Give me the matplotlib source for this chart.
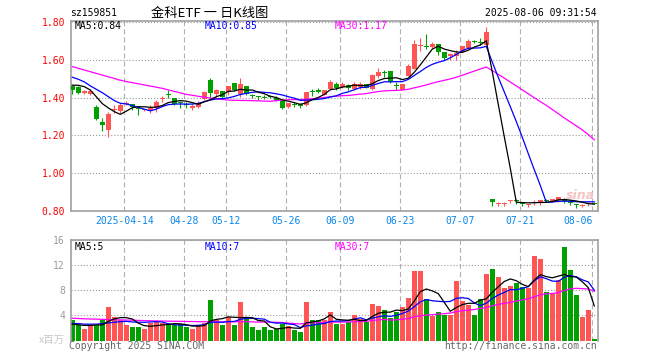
import matplotlib
matplotlib.use('Agg')
import matplotlib.pyplot as plt
import numpy as np
import pandas as pd

plt.rcParams['lines.scale_dashes'] = False

# ---------------- data ----------------
holidays = ['2025-04-04', '2025-05-01', '2025-05-02', '2025-05-05', '2025-06-02']
dates = pd.bdate_range('2025-03-31', '2025-08-06', freq='C', holidays=holidays).strftime('%Y-%m-%d').tolist()

opens = [1.463, 1.454, 1.424, 1.419, 1.352, 1.271, 1.229, 1.334, 1.329, 1.367,
         1.367, 1.346, 1.332, 1.334, 1.343, 1.390, 1.418, 1.397, 1.372, 1.366,
         1.343, 1.352, 1.390, 1.493, 1.417, 1.433, 1.430, 1.475, 1.419, 1.459,
         1.412, 1.404, 1.405, 1.407, 1.397, 1.380, 1.352, 1.365, 1.361, 1.362,
         1.432, 1.438, 1.415, 1.447, 1.470, 1.456, 1.467, 1.445, 1.456, 1.474,
         1.445, 1.516, 1.531, 1.540, 1.465, 1.442, 1.516, 1.551, 1.672, 1.673,
         1.670, 1.685, 1.639, 1.619, 1.618, 1.643, 1.660, 1.697, 1.690, 1.678,
         0.864, 0.838, 0.838, 0.851, 0.853, 0.841, 0.831, 0.841, 0.847, 0.856,
         0.849, 0.860, 0.866, 0.846, 0.834, 0.828, 0.835, 0.840]
highs = [1.466, 1.460, 1.440, 1.445, 1.360, 1.292, 1.324, 1.360, 1.370, 1.380,
         1.367, 1.350, 1.340, 1.360, 1.385, 1.410, 1.438, 1.397, 1.380, 1.375,
         1.367, 1.380, 1.435, 1.504, 1.445, 1.436, 1.461, 1.478, 1.505, 1.460,
         1.420, 1.410, 1.415, 1.415, 1.410, 1.380, 1.370, 1.375, 1.370, 1.430,
         1.447, 1.450, 1.440, 1.493, 1.480, 1.480, 1.470, 1.481, 1.481, 1.474,
         1.526, 1.558, 1.547, 1.540, 1.484, 1.474, 1.577, 1.706, 1.716, 1.735,
         1.695, 1.685, 1.639, 1.637, 1.654, 1.675, 1.709, 1.706, 1.717, 1.774,
         0.864, 0.849, 0.849, 0.860, 0.863, 0.849, 0.839, 0.860, 0.860, 0.862,
         0.866, 0.874, 0.870, 0.857, 0.839, 0.836, 0.846, 0.842]
lows = [1.417, 1.420, 1.420, 1.415, 1.280, 1.222, 1.190, 1.320, 1.320, 1.360,
        1.335, 1.307, 1.330, 1.320, 1.322, 1.376, 1.400, 1.360, 1.346, 1.343,
        1.332, 1.345, 1.385, 1.405, 1.405, 1.400, 1.416, 1.436, 1.405, 1.416,
        1.400, 1.385, 1.390, 1.396, 1.380, 1.340, 1.345, 1.350, 1.343, 1.355,
        1.406, 1.425, 1.412, 1.445, 1.438, 1.449, 1.442, 1.442, 1.445, 1.449,
        1.442, 1.502, 1.508, 1.477, 1.442, 1.438, 1.512, 1.551, 1.648, 1.657,
        1.663, 1.625, 1.600, 1.598, 1.598, 1.639, 1.657, 1.688, 1.677, 1.678,
        0.828, 0.828, 0.828, 0.842, 0.839, 0.828, 0.821, 0.832, 0.832, 0.850,
        0.845, 0.846, 0.840, 0.832, 0.818, 0.822, 0.825, 0.838]
closes = [1.440, 1.426, 1.436, 1.433, 1.288, 1.257, 1.313, 1.338, 1.361, 1.372,
          1.349, 1.339, 1.336, 1.346, 1.378, 1.392, 1.416, 1.366, 1.369, 1.363,
          1.353, 1.373, 1.430, 1.426, 1.442, 1.405, 1.461, 1.440, 1.472, 1.420,
          1.409, 1.401, 1.400, 1.404, 1.387, 1.345, 1.369, 1.362, 1.358, 1.430,
          1.428, 1.428, 1.440, 1.483, 1.452, 1.474, 1.449, 1.474, 1.470, 1.452,
          1.522, 1.533, 1.528, 1.480, 1.462, 1.474, 1.569, 1.685, 1.675, 1.670,
          1.685, 1.643, 1.611, 1.633, 1.637, 1.671, 1.702, 1.694, 1.687, 1.749,
          0.849, 0.840, 0.840, 0.853, 0.851, 0.839, 0.833, 0.843, 0.860, 0.853,
          0.863, 0.874, 0.853, 0.844, 0.831, 0.830, 0.837, 0.839]
volumes = [3.2, 2.5, 1.9, 2.3, 2.4, 3.3, 5.4, 3.8, 3.3, 2.4,
           2.2, 2.1, 1.8, 2.8, 2.9, 2.8, 2.5, 2.4, 2.7, 2.1,
           1.8, 2.4, 2.8, 6.5, 3.3, 2.4, 3.8, 2.5, 6.2, 3.5,
           2.1, 1.6, 2.1, 1.6, 1.8, 2.6, 2.3, 1.6, 1.4, 6.2,
           3.2, 3.2, 3.2, 4.6, 2.7, 2.7, 2.9, 4.0, 3.5, 2.9,
           5.8, 5.5, 4.8, 3.6, 4.5, 5.4, 6.8, 11.1, 11.1, 6.6,
           3.9, 4.6, 4.1, 4.1, 9.5, 6.3, 5.6, 4.1, 6.6, 10.6,
           11.4, 10.1, 8.3, 8.6, 9.2, 8.5, 8.3, 13.5, 12.9, 7.7,
           7.5, 9.6, 14.9, 11.2, 7.3, 3.8, 4.9, 0.3]

# moving-average values for the first days (history before the window)
ma5_head = [1.466, 1.465, 1.458, 1.440]
ma10_head = [1.508, 1.497, 1.483, 1.462, 1.444, 1.426, 1.405, 1.384, 1.370]
ma30_head = [1.564, 1.555, 1.546, 1.537, 1.528, 1.519, 1.510, 1.501, 1.492, 1.485,
             1.479, 1.473, 1.467, 1.461, 1.455, 1.449, 1.441, 1.433, 1.425, 1.417,
             1.412, 1.407, 1.402, 1.398, 1.394, 1.390, 1.387, 1.386, 1.385]
vma5_head = [2.6, 2.5, 2.4, 2.4]
vma10_head = [2.7, 2.7, 2.6, 2.6, 2.6, 2.7, 2.8, 2.9, 3.0]
vma30_head = [3.55, 3.50, 3.45, 3.42, 3.40, 3.37, 3.33, 3.30, 3.28, 3.26,
              3.24, 3.20, 3.17, 3.14, 3.12, 3.10, 3.08, 3.06, 3.05, 3.03,
              3.02, 3.00, 2.99, 2.98, 2.97, 2.97, 2.97, 2.98, 2.99]

tick_dates = ['2025-04-14', '2025-04-28', '2025-05-12', '2025-05-26', '2025-06-09',
              '2025-06-23', '2025-07-07', '2025-07-21', '2025-08-06']
tick_labels = ['2025-04-14', '04-28', '05-12', '05-26', '06-09', '06-23', '07-07', '07-21', '08-06']
price_ticks = [0.80, 1.00, 1.20, 1.40, 1.60, 1.80]
vol_ticks = [4, 8, 12, 16]

code = 'sz159851'
title = '金科ETF 一 日K线图'
stamp = '2025-08-06 09:31:54'
ma_labels = ['MA5:0.84', 'MA10:0.85', 'MA30:1.17']
vma_labels = ['MA5:5', 'MA10:7', 'MA30:7']

# ---------------- helpers ----------------
def ma(vals, n, head):
    r = pd.Series(vals, dtype=float).rolling(n).mean().to_numpy()
    r[:n - 1] = head
    return r

RED = '#ff5555'
GREEN = '#00a000'
GRAY = '#a0a0a0'
MONO = 'DejaVu Sans Mono'

o = np.array(opens); h = np.array(highs); l = np.array(lows); c = np.array(closes)
v = np.array(volumes)
x = np.arange(len(dates))
up = c >= o
colors = np.where(up, RED, GREEN)

W, H = 660, 360
def box(left, top, right, bottom):
    return [left / W, 1 - bottom / H, (right - left) / W, (bottom - top) / H]

fig = plt.figure(figsize=(6.6, 3.6), dpi=100)
fig.patch.set_facecolor('white')
axp = fig.add_axes(box(71, 21, 598, 211))
axv = fig.add_axes(box(71, 240, 598, 340.5))

xl = (-0.22, 87.62)
grid_x = np.array([dates.index(d) for d in tick_dates]) - 0.33

for ax in (axp, axv):
    ax.set_xlim(*xl)
    ax.set_axisbelow(True)
    for s in ax.spines.values():
        s.set_color(GRAY)
        s.set_linewidth(1.2)
    ax.tick_params(length=0)
    ax.xaxis.grid(True, color='#b0b0b0', lw=0.8, ls=(0, (3.6, 2.2)))
    ax.yaxis.grid(True, color='#999999', lw=0.8, ls=(0, (0.8, 1.4)))
axv.spines['bottom'].set_visible(False)

# price panel
axp.set_ylim(0.80, 0.80 + 190 / 189)
axp.set_yticks(price_ticks)
axp.set_yticklabels(['%.2f' % t for t in price_ticks], color='#ff0000', fontsize=7, family=MONO)
axp.set_xticks(grid_x)
xlabs = axp.set_xticklabels(tick_labels, color='#0a86e8', fontsize=7, family=MONO)
xlabs[-1].set_horizontalalignment('right')
axp.tick_params(axis='y', pad=4.3)
axp.tick_params(axis='x', pad=3.4)

body_lo = np.minimum(o, c)
body_h = np.maximum(np.abs(c - o), 0.0055)
axp.vlines(x, l, h, colors=colors, lw=0.8, zorder=2)
axp.bar(x, body_h, bottom=body_lo, width=0.78, color=colors, lw=0, zorder=3)

axp.plot(x, ma(closes, 30, ma30_head), color='#ff00ff', lw=0.9, zorder=4)
axp.plot(x, ma(closes, 10, ma10_head), color='#0000ff', lw=0.9, zorder=4)
axp.plot(x, ma(closes, 5, ma5_head), color='black', lw=0.9, zorder=5)

# volume panel
axv.set_ylim(0, 16)
axv.set_yticks(vol_ticks)
axv.set_yticklabels([str(t) for t in vol_ticks], color='#9a9a9a', fontsize=7, family=MONO)
axv.tick_params(axis='y', pad=4.3)
axv.set_xticks(grid_x)
axv.set_xticklabels([])
axv.bar(x, v, width=0.78, color=colors, lw=0, zorder=2)
axv.plot(x, ma(volumes, 30, vma30_head), color='#ff00ff', lw=0.9, zorder=4)
axv.plot(x, ma(volumes, 10, vma10_head), color='#0000ff', lw=0.9, zorder=4)
axv.plot(x, ma(volumes, 5, vma5_head), color='black', lw=0.9, zorder=5)

# texts
def t(px, py, s, **kw):
    fig.text(px / W, 1 - py / H, s, va='center', **kw)

t(70, 13, code, fontsize=7, family=MONO, color='black')
t(210, 13, title, ha='center', fontsize=9.5, family=['Noto Sans CJK SC', 'DejaVu Sans'], color='black')
t(597, 13, stamp, ha='right', fontsize=7, family=MONO, color='black')

for xpos, s, col in zip((75, 205, 335), ma_labels, ('black', '#0000ff', '#ff00ff')):
    t(xpos, 26, s, fontsize=7, family=MONO, color=col)
for xpos, s, col in zip((75, 205, 335), vma_labels, ('black', '#0000ff', '#ff00ff')):
    t(xpos, 246.5, s, fontsize=7, family=MONO, color=col)

t(65, 340, 'x百万', ha='right', fontsize=7.5, family=['Noto Sans CJK SC', 'DejaVu Sans'], color='#c8c8c8')
t(69, 346, 'Copyright 2025 SINA.COM', fontsize=7, family=MONO, color='#666666')
t(597, 346, 'http://finance.sina.com.cn', ha='right', fontsize=7, family=MONO, color='#666666')
t(580, 196, 'sina', ha='center', fontsize=9, family='DejaVu Sans', fontweight='bold',
  style='italic', color='#f3c4c4', zorder=0)

fig.savefig('out.png', dpi=100, facecolor='white')
